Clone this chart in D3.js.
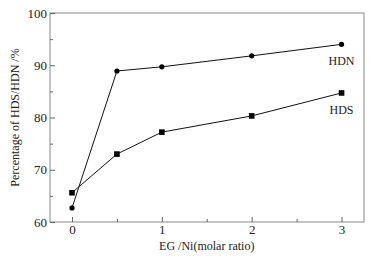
<!DOCTYPE html>
<html lang="en">
<head>
<meta charset="UTF-8">
<title>hds_hdn</title>
<script src="https://cdn.jsdelivr.net/npm/d3@7"></script>
<style>
  body { margin: 0; background: #fff; }
  svg text { font-family: "Liberation Serif", "Times New Roman", "DejaVu Serif", serif; }
</style>
</head>
<body>
<svg width="382" height="257" id="mainsvg"></svg>
<script>
const ratios = [0, 0.5, 1, 2, 3];
const hdn = [62.7, 88.9, 89.7, 91.8, 94.0];
const hds = [65.6, 73.0, 77.2, 80.3, 84.7];
const xTicks = [0, 1, 2, 3];
const yTicks = [60, 70, 80, 90, 100];

const svg = d3.select('svg');
const margin = {top: 13, right: 18, bottom: 35, left: 50};
const width = +svg.attr('width'), height = +svg.attr('height');
const innerWidth = width - margin.left - margin.right;
const innerHeight = height - margin.top - margin.bottom;
const g = svg.append('g').attr('transform', `translate(${margin.left},${margin.top})`);

const x = d3.scaleLinear().domain([-0.245, 3.25]).range([0, innerWidth]);
const y = d3.scaleLinear().domain([60, 100]).range([innerHeight, 0]);

// frame
g.append('rect').attr('width', innerWidth).attr('height', innerHeight)
  .attr('fill', 'none').attr('stroke', '#888').attr('stroke-width', 1);

// axes, ticks pointing inward
const xAxis = g.append('g').attr('transform', `translate(0,${innerHeight})`)
  .call(d3.axisBottom(x).tickValues(xTicks).tickFormat(d3.format('d'))
    .tickSizeInner(-5).tickSizeOuter(0).tickPadding(3));
const xMinor = g.append('g').attr('transform', `translate(0,${innerHeight})`)
  .call(d3.axisBottom(x).tickValues([0.5, 1.5, 2.5]).tickSize(-3));
const yAxis = g.append('g')
  .call(d3.axisLeft(y).tickValues(yTicks).tickFormat(d3.format('d'))
    .tickSizeInner(-5).tickSizeOuter(0).tickPadding(3));
const yMinor = g.append('g')
  .call(d3.axisLeft(y).tickValues([65, 75, 85, 95]).tickSize(-3));

[xAxis, xMinor, yAxis, yMinor].forEach(a => {
  a.select('.domain').remove();
  a.selectAll('.tick line').attr('stroke', '#666');
  a.attr('font-family', null);
});
xMinor.selectAll('.tick text').remove();
yMinor.selectAll('.tick text').remove();
g.selectAll('.tick text').attr('font-size', '13px').attr('fill', '#222');

// axis titles
svg.append('text').text('EG /Ni(molar ratio)')
  .attr('x', margin.left + x(1.5)).attr('y', 250)
  .attr('text-anchor', 'middle').attr('font-size', '12px').attr('fill', '#222');
svg.append('text').text('Percentage of HDS/HDN /%')
  .attr('transform', `translate(19,${margin.top + innerHeight / 2}) rotate(-90)`)
  .attr('text-anchor', 'middle').attr('font-size', '12px').attr('fill', '#222');

const line = d3.line().x(d => x(d[0])).y(d => y(d[1]));
const hdnPts = ratios.map((r, i) => [r, hdn[i]]);
const hdsPts = ratios.map((r, i) => [r, hds[i]]);

g.append('path').datum(hdnPts).attr('d', line).attr('fill', 'none').attr('stroke', '#111').attr('stroke-width', 1);
g.append('path').datum(hdsPts).attr('d', line).attr('fill', 'none').attr('stroke', '#111').attr('stroke-width', 1);

g.selectAll('.dot').data(hdnPts).enter().append('circle').attr('class', 'dot')
  .attr('cx', d => x(d[0])).attr('cy', d => y(d[1])).attr('r', 2.6).attr('fill', '#000');
g.selectAll('.sq').data(hdsPts).enter().append('rect').attr('class', 'sq')
  .attr('x', d => x(d[0]) - 2.8).attr('y', d => y(d[1]) - 2.8)
  .attr('width', 5.6).attr('height', 5.6).attr('fill', '#000');

// series labels
g.append('text').text('HDN').attr('x', x(3)).attr('y', y(94) + 21)
  .attr('text-anchor', 'middle').attr('font-size', '12px').attr('fill', '#222');
g.append('text').text('HDS').attr('x', x(3)).attr('y', y(84.7) + 21)
  .attr('text-anchor', 'middle').attr('font-size', '12px').attr('fill', '#222');
</script>
</body>
</html>
